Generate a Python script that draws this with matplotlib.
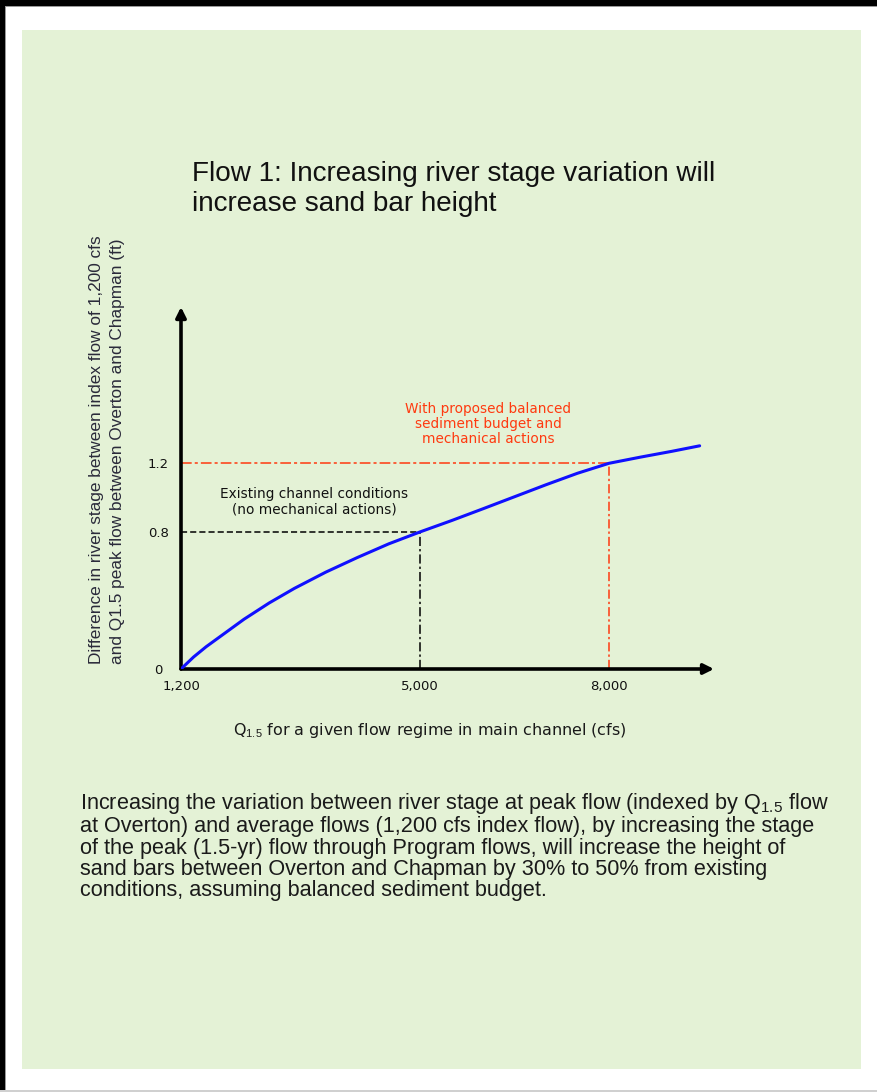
import matplotlib.pyplot as plt
from matplotlib.patches import Rectangle

plt.rcParams['mathtext.fontset'] = 'custom'
plt.rcParams['mathtext.rm'] = 'Liberation Sans'
plt.rcParams['mathtext.it'] = 'Liberation Sans:italic'

# data (flow in cfs, stage difference in ft)
flow_cfs = [1200, 1400, 1600, 1900, 2200, 2600, 3000, 3500, 4000, 4500, 5000,
            5500, 6000, 6500, 7000, 7500, 8000, 8500, 9000, 9440]
stage_ft = [0.0, 0.07, 0.13, 0.21, 0.29, 0.385, 0.47, 0.565, 0.65, 0.73, 0.80,
            0.866, 0.935, 1.005, 1.075, 1.142, 1.200, 1.236, 1.270, 1.302]

existing_q, existing_h = 5000, 0.8
proposed_q, proposed_h = 8000, 1.2

x_ticks = [1200, 5000, 8000]
x_ticklabels = ['1,200', '5,000', '8,000']
y_ticks = [0, 0.8, 1.2]
y_ticklabels = ['0', '0.8', '1.2']

title = "Flow 1: Increasing river stage variation will\nincrease sand bar height"
ylabel = ("Difference in river stage between index flow of 1,200 cfs\n"
          "and Q1.5 peak flow between Overton and Chapman (ft)")
xlabel = "Q$_{1.5}$ for a given flow regime in main channel (cfs)"
note_existing = "Existing channel conditions\n(no mechanical actions)"
note_proposed = "With proposed balanced\nsediment budget and\nmechanical actions"
caption = ("Increasing the variation between river stage at peak flow (indexed by Q$_{1.5}$ flow\n"
           "at Overton) and average flows (1,200 cfs index flow), by increasing the stage\n"
           "of the peak (1.5-yr) flow through Program flows, will increase the height of\n"
           "sand bars between Overton and Chapman by 30% to 50% from existing\n"
           "conditions, assuming balanced sediment budget.")

W, H = 877, 1092
fig = plt.figure(figsize=(W / 100, H / 100), dpi=100)
fig.patch.set_facecolor('white')

# page frame and green panel
fig.patches.append(Rectangle((22 / W, 1 - 1069 / H), 839 / W, 1039 / H,
                             transform=fig.transFigure, facecolor='#e4f2d6',
                             edgecolor='none', zorder=-5))
fig.patches.append(Rectangle((0, 1 - 6 / H), 1, 6 / H, transform=fig.transFigure,
                             facecolor='black', edgecolor='none', zorder=-4))
fig.patches.append(Rectangle((0, 1 - 7 / H), 1, 1 / H, transform=fig.transFigure,
                             facecolor='#999999', edgecolor='none', zorder=-4))
fig.patches.append(Rectangle((0, 0), 5 / W, 1, transform=fig.transFigure,
                             facecolor='black', edgecolor='none', zorder=-4))
fig.patches.append(Rectangle((5 / W, 0), 1 / W, 1 - 7 / H, transform=fig.transFigure,
                             facecolor='#999999', edgecolor='none', zorder=-4))
fig.patches.append(Rectangle((0, 0), 1, 2 / H, transform=fig.transFigure,
                             facecolor='#d0d0d0', edgecolor='none', zorder=-4))

# axes placed so the origin sits where it does in the reference
x0, x1, y0, y1 = 181, 714, 669, 307
ax = fig.add_axes([x0 / W, 1 - y0 / H, (x1 - x0) / W, (y0 - y1) / H])
ax.set_facecolor('none')
xmax = 1200 + (x1 - x0) / (609 - x0) * (8000 - 1200)
ymax = (y0 - y1) / (y0 - 463.3) * 1.2
ax.set_xlim(1200, xmax)
ax.set_ylim(0, ymax)
for s in ax.spines.values():
    s.set_visible(False)

ax.set_xticks(x_ticks, x_ticklabels)
ax.set_yticks(y_ticks, y_ticklabels)
ax.tick_params(length=0, labelsize=9.5, colors='#111111')
ax.tick_params(axis='x', pad=8)
ax.tick_params(axis='y', pad=16.5)
for lab in ax.get_yticklabels():
    lab.set_horizontalalignment('center')

# reference lines
ax.plot([1200, existing_q], [existing_h, existing_h], color='black', lw=1.1,
        ls=(0, (4, 2)))
ax.plot([existing_q, existing_q], [0, existing_h], color='black', lw=1.1,
        ls=(0, (6, 2, 1.5, 2)))
ax.plot([1200, proposed_q], [proposed_h, proposed_h], color='#ff3a10', lw=1.1,
        ls=(0, (7, 2, 2, 2)))
ax.plot([proposed_q, proposed_q], [0, proposed_h], color='#ff3a10', lw=1.1,
        ls=(0, (6, 2, 1.5, 2)))

ax.plot(flow_cfs, stage_ft, color='#1010ff', lw=2.2, solid_capstyle='round',
        solid_joinstyle='round', zorder=5)

# arrowed axes
arrow = dict(arrowstyle='-|>', lw=2.6, color='black', mutation_scale=15,
             shrinkA=0, shrinkB=0)
ax.annotate('', xy=(xmax, 0), xytext=(1200, 0), arrowprops=arrow, annotation_clip=False)
ax.annotate('', xy=(1200, ymax), xytext=(1200, 0), arrowprops=arrow, annotation_clip=False)

ax.text(3313, 0.975, note_existing, ha='center', va='center', fontsize=9.8,
        color='#111111', linespacing=1.1)
ax.text(6078, 1.43, note_proposed, ha='center', va='center', fontsize=9.8,
        color='#ff3a10', linespacing=1.1)

fig.text(192 / W, 1 - 161 / H, title, ha='left', va='top', fontsize=20.1,
         family='Liberation Sans', color='#111111', linespacing=1.2)
fig.text(107 / W, 1 - 450 / H, ylabel, rotation=90, ha='center', va='center',
         multialignment='left', fontsize=12.4, family='Liberation Sans',
         color='#2a2a3a', linespacing=1.5)
fig.text(430 / W, 1 - 731 / H, xlabel, ha='center', va='center', fontsize=11.5,
         color='#1a1a1a')
fig.text(80 / W, 1 - 791 / H, caption, ha='left', va='top', fontsize=15.6,
         family='Liberation Sans', color='#1a1a1a', linespacing=1.02)

fig.savefig('out.png', dpi=100)
